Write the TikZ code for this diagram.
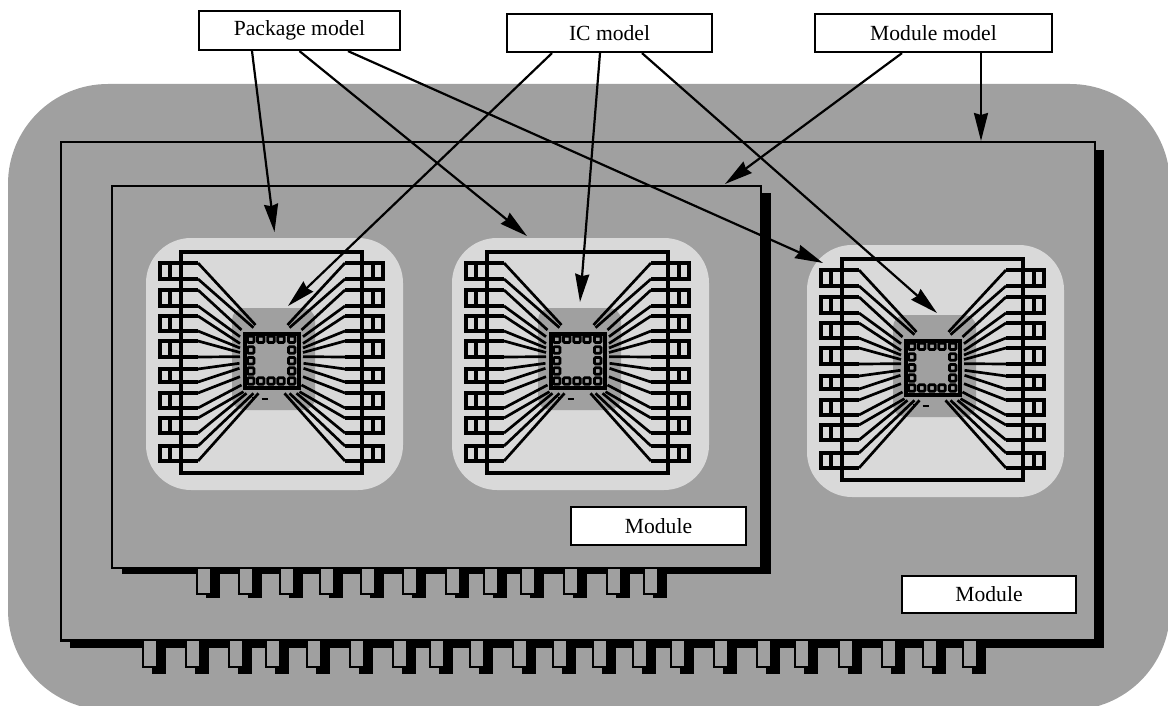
\documentclass[tikz,border=0pt]{standalone}
\usepackage{fontspec}
\setmainfont{Liberation Serif}
\usetikzlibrary{arrows.meta}
\definecolor{cBoard}{RGB}{160,160,160}
\definecolor{cPkg}{RGB}{217,217,217}
\tikzset{
  modelbox/.style={draw=black, fill=white, line width=2.2pt, inner sep=0pt,
              align=center, font=\fontsize{21.6}{26}\selectfont},
  modrect/.style={draw=black, fill=cBoard, line width=2.2pt},
  pinrect/.style={draw=black, fill=cBoard, line width=1.6pt},
  lead/.style={draw=black, line width=3.2pt},
  wire/.style={draw=black, line width=2.7pt},
  padrect/.style={draw=black, fill=cBoard, line width=2.8pt, rounded corners=1pt},
  ar/.style={-{Stealth[length=28pt, width=14pt, inset=2pt]}, draw=black, line width=2.2pt},
}
% one packaged IC, drawn at the place of the first one and shifted by #1
\newcommand{\icpackage}[1]{
  \begin{scope}[shift={(#1)}]
    \fill[cPkg] (146,238) [rounded corners=45pt] rectangle (403,490);
    \draw[lead] (181,252) rectangle (362,473);
    \fill[cBoard, rounded corners=12pt] (232,308) rectangle (315,410);
    \foreach \sd in {1,-1} {
      \begin{scope}[shift={(271.5,0)}, xscale=\sd]
        % bond wires
        \foreach \ya/\ex/\ey in {263/-16/325, 279/-18/327.7, 290/-30/330, 306/-31.5/336.7,
            316/-31.5/343.5, 331/-31.5/348, 341/-31.5/352.5, 357/-31.5/356.7,
            369/-32/363.3, 382/-32/368.3, 393/-31.5/376.7, 408/-30/385,
            418/-28/391.7, 433/-25/393.3, 446/-18/393.3, 461/-13/393.3}
          \draw[wire] (-73.5,\ya) -- (\ex,\ey);
        % leads
        \foreach \ya/\yb in {263/279, 290/306, 316/331, 341/357, 369/382, 393/408, 418/433, 446/461} {
          \draw[lead] (-73.5,\ya) -- (-111.5,\ya) -- (-111.5,\yb) -- (-73.5,\yb);
          \draw[lead] (-101.5,\ya) -- (-101.5,\yb);
        }
      \end{scope}
    }
    % chip
    \draw[draw=black, fill=cBoard, line width=4pt] (244.5,333.5) rectangle (298.5,388);
    \foreach \px in {250.7,260.7,271,281,291.7} {
      \draw[padrect] (\px-3.2,339.3-3.2) rectangle (\px+3.2,339.3+3.2);
      \draw[padrect] (\px-3.2,381-3.2) rectangle (\px+3.2,381+3.2);
    }
    \foreach \py in {350,360.7,371} {
      \draw[padrect] (250.7-3.2,\py-3.2) rectangle (250.7+3.2,\py+3.2);
      \draw[padrect] (291.7-3.2,\py-3.2) rectangle (291.7+3.2,\py+3.2);
    }
    \draw[draw=black, line width=2pt] (261.5,399) -- (268,399);
    \draw[draw=black, line width=2pt] (251.5,398) -- (254.5,398);
  \end{scope}
}

\begin{document}
\begin{tikzpicture}[x=1pt, y=-1pt]
\useasboundingbox (0,0) rectangle (1168,706);
\clip (0,0) rectangle (1168,706);
% board
\fill[cBoard, rounded corners=100pt] (8,84) rectangle (1170,710);

% outer module
\fill[black] (70,150) rectangle (1104,648);
\draw[modrect] (61,142) rectangle (1095,640.5);
\foreach \x in {143,186,229,266,307,350,393,430,470,513,553,593,633,671,714,757,795,839,882,923,963} {
  \fill[black] (\x+9,640) rectangle (\x+23,674);
  \draw[pinrect] (\x,640) rectangle (\x+14,667);
}

% inner module
\fill[black] (122,193) rectangle (771,573.5);
\draw[modrect] (112,186) rectangle (761,568);
\foreach \x in {197,239,280,320,361,403,446,484,521,564,607,644} {
  \fill[black] (\x+9,568) rectangle (\x+23,598);
  \draw[pinrect] (\x,568) rectangle (\x+14,594);
}

% packages
\icpackage{0,0}
\icpackage{306,0}
\icpackage{661,7}

% labels
\node[modelbox, minimum width=201pt, minimum height=39pt] (pkgmodel) at (299.5,30.5) {Package model};
\node[modelbox, minimum width=205pt, minimum height=38pt] (icmodel) at (609.5,33) {IC model};
\node[modelbox, minimum width=237pt, minimum height=38pt] (modmodel) at (933.5,33) {Module model};
\node[modelbox, minimum width=175pt, minimum height=38pt] (innerlabel) at (658.5,526) {Module};
\node[modelbox, minimum width=174pt, minimum height=37pt] (outerlabel) at (989,594.5) {Module};

% arrow tips
\coordinate (pkgA) at (274.5,232);
\coordinate (pkgB) at (527,236);
\coordinate (pkgC) at (823,263);
\coordinate (icA) at (288,306);
\coordinate (icB) at (580,302);
\coordinate (icC) at (937,313);
\coordinate (modA) at (725,184);
\coordinate (modB) at (981,141);

\draw[ar] ([xshift=-47.5pt]pkgmodel.south) -- (pkgA);
\draw[ar] (pkgmodel.south) -- (pkgB);
\draw[ar] ([xshift=48.5pt]pkgmodel.south) -- (pkgC);
\draw[ar] ([xshift=-57.5pt]icmodel.south) -- (icA);
\draw[ar] ([xshift=-9.5pt]icmodel.south) -- (icB);
\draw[ar] ([xshift=32.5pt]icmodel.south) -- (icC);
\draw[ar] ([xshift=-31.5pt]modmodel.south) -- (modA);
\draw[ar] ([xshift=47.5pt]modmodel.south) -- (modB);
\end{tikzpicture}
\end{document}
